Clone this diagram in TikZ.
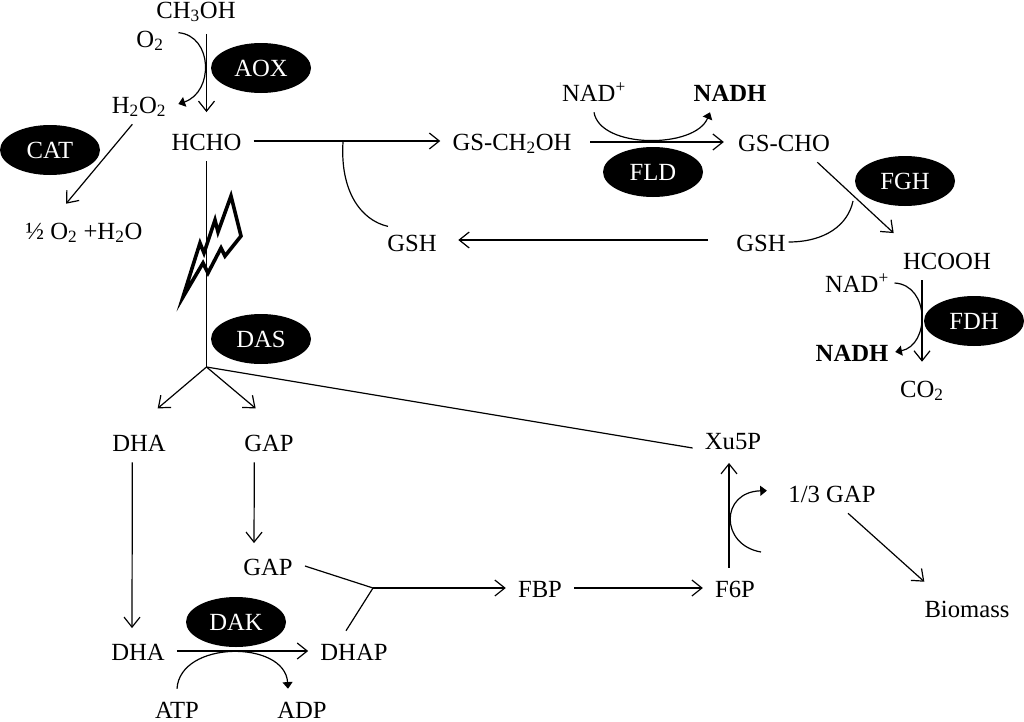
\documentclass[tikz,border=0pt]{standalone}
\usepackage{fontspec}
\setmainfont{Liberation Serif}
\usetikzlibrary{arrows.meta,shapes.geometric}

\tikzset{
	chem/.style={anchor=base, inner xsep=9pt, inner ysep=6.75pt, text height=15pt, text depth=1.5pt, font=\fontsize{18.5}{22}\selectfont},
	enzyme/.style={ellipse, fill=black, text=white, inner sep=0pt, minimum width=75pt, minimum height=37.5pt, font=\fontsize{18.5}{22}\selectfont},
	rxn/.style={draw, line width=0.9pt, -{Straight Barb[length=7.5pt,width=12pt]}},
	cof/.style={draw, line width=0.9pt, -{Triangle[length=5pt,width=7.5pt]}},
	plain/.style={draw, line width=0.9pt}
}

\begin{document}
\begin{tikzpicture}[x=0.75pt,y=-0.75pt]
	\useasboundingbox (0,0) rectangle (1024,721);
	% metabolites
	\node[chem] (ch3oh) at (196,18) {CH\textsubscript{3}OH};
	\node[chem] (o2) at (150,47) {O\textsubscript{2}};
	\node[chem] (h2o2) at (139,113) {H\textsubscript{2}O\textsubscript{2}};
	\node[chem] (hcho) at (206.5,150) {HCHO};
	\node[chem] (water) at (84,239) {½ O\textsubscript{2} +H\textsubscript{2}O};
	\node[chem] (gsch2oh) at (512,150) {GS-CH\textsubscript{2}OH};
	\node[chem] (nadA) at (594,101) {NAD\textsuperscript{+}};
	\node[chem] (nadhA) at (730,101) {\textbf{NADH}};
	\node[chem] (gscho) at (784,151) {GS-CHO};
	\node[chem] (gshR) at (761,251) {GSH};
	\node[chem] (gshL) at (412,251) {GSH};
	\node[chem] (hcooh) at (947,269) {HCOOH};
	\node[chem] (nadB) at (857,292) {NAD\textsuperscript{+}};
	\node[chem] (nadhB) at (852,361) {\textbf{NADH}};
	\node[chem] (co2) at (922,397) {CO\textsubscript{2}};
	\node[chem] (dhaA) at (139,451) {DHA};
	\node[chem] (gapA) at (269,451) {GAP};
	\node[chem] (xu5p) at (733,449) {Xu5P};
	\node[chem] (third) at (832,502) {1/3 GAP};
	\node[chem] (gapB) at (268,575) {GAP};
	\node[chem] (fbp) at (540,597) {FBP};
	\node[chem] (f6p) at (735,597) {F6P};
	\node[chem] (biomass) at (967,617) {Biomass};
	\node[chem] (dhaB) at (138,660) {DHA};
	\node[chem] (dhap) at (354,660) {DHAP};
	\node[chem] (atp) at (177,718) {ATP};
	\node[chem] (adp) at (302,718) {ADP};
	% enzymes
	\node[enzyme] (aox) at (261,68) {AOX};
	\node[enzyme] (cat) at (50,150) {CAT};
	\node[enzyme] (das) at (261,339) {DAS};
	\node[enzyme] (fld) at (653,172) {FLD};
	\node[enzyme] (fgh) at (905,181) {FGH};
	\node[enzyme] (fdh) at (974,321) {FDH};
	\node[enzyme] (dak) at (236,622) {DAK};
	% free ends
	\coordinate (split) at (206.5,367);
	\coordinate (join) at (373,588);
	\coordinate (gsIn) at (343,142);
	\coordinate (gsOut) at (853,201);
	\coordinate (gapOut) at (761,552);
	% methanol oxidation
	\draw[rxn] ([yshift=-3.5pt]ch3oh.south -| hcho.north) -- ([yshift=6.5pt]hcho.north);
	\draw[cof] ([xshift=2pt,yshift=4pt]o2.east) .. controls (213,36) and (214,92) .. (h2o2.east);
	\draw[rxn] ([xshift=-5pt]h2o2.south) -- ([xshift=-13.5pt,yshift=4.5pt]water.north);
	% dissimilation
	\draw[rxn] (hcho.east) -- (gsch2oh.west);
	\draw[rxn, shorten <=5pt, shorten >=1.5pt] (gsch2oh.east |- gscho.west) -- (gscho.west);
	\draw[cof] (nadA.south) .. controls (600,149) and (695,149) .. ([xshift=-15pt]nadhA.south);
	\draw[rxn] ([xshift=25pt]gscho.south) -- ([xshift=-40pt,yshift=5pt]hcooh.north);
	\draw[plain] ([xshift=-7pt]gshR.east) .. controls (825,242) and (848,225) .. (gsOut);
	\draw[rxn, shorten <=12pt, shorten >=7pt] ([yshift=1.5pt]gshR.west) -- ([yshift=1.5pt]gshL.east);
	\draw[plain] (gsIn) .. controls (340,190) and (360,220) .. ([xshift=-18pt,yshift=-3.5pt]gshL.north);
	\draw[rxn] (hcooh.south -| co2.north) -- ([yshift=4.5pt]co2.north);
	\draw[cof] ([xshift=-5pt]nadB.east) .. controls (930,285) and (930,345) .. ([xshift=-4pt]nadhB.east);
	% assimilation
	\draw[plain] (hcho.south) -- (split);
	\draw[rxn] (split) -- ([xshift=14pt,yshift=10pt]dhaA.north);
	\draw[rxn] (split) -- ([xshift=-10pt,yshift=10pt]gapA.north);
	\draw[plain] (split) -- ([yshift=-6pt]xu5p.west);
	\draw[rxn] ([xshift=-5pt]dhaA.south) -- ([xshift=-4.5pt,yshift=2pt]dhaB.north);
	\draw[rxn] ([xshift=-11pt]gapA.south) -- ([xshift=-10.5pt,yshift=2pt]gapB.north);
	\draw[rxn] (dhaB.east) -- (dhap.west);
	\draw[cof] (atp.north) .. controls (180,640) and (285,640) .. ([xshift=-10.5pt]adp.north);
	\draw[plain] (gapB.east) -- (join);
	\draw[plain] ([xshift=-6pt]dhap.north) -- (join);
	\draw[rxn] (join) -- (fbp.west);
	\draw[rxn] (fbp.east) -- (f6p.west);
	\draw[rxn] ([xshift=-4.5pt]f6p.north) -- ([xshift=-3pt,yshift=-2pt]xu5p.south);
	\draw[cof, shorten >=7pt] (gapOut) .. controls (720,545) and (720,492) .. ([yshift=2pt]third.west);
	\draw[rxn] ([xshift=12pt]third.south) -- ([xshift=-32pt,yshift=4.5pt]biomass.north);
	% lightning
	\draw[line width=2.7pt, line join=miter] (231,196) -- (241,236) -- (225,256) -- (221,248) -- (208,273) -- (203,263) -- (183,297) -- (200,243) -- (204,253) -- (215,220) -- (218,232) -- cycle;
\end{tikzpicture}
\end{document}
